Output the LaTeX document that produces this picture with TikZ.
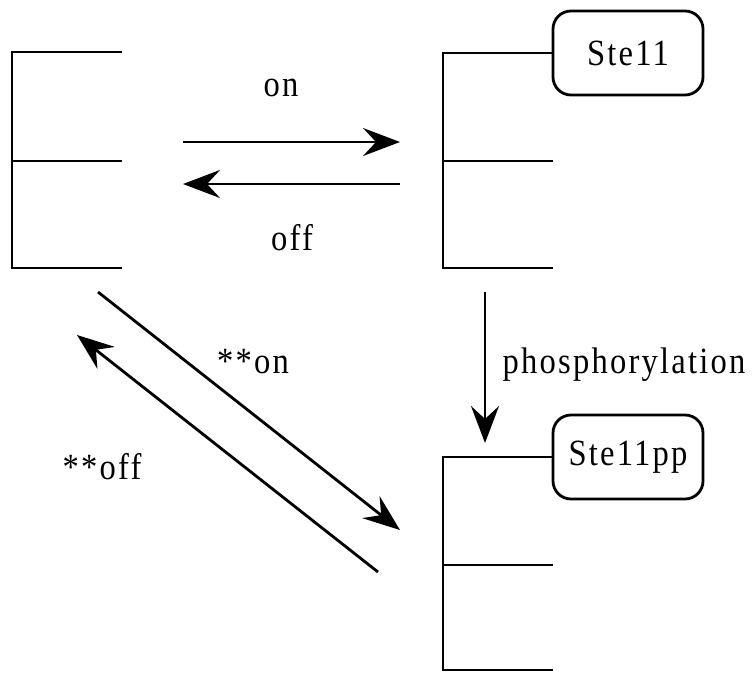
\documentclass[tikz,border=0pt]{standalone}
\usepackage{fontspec}
\setmainfont{Liberation Serif}[FakeStretch=0.88,LetterSpace=6]
\usetikzlibrary{arrows.meta}
\begin{document}
\begin{tikzpicture}[x=1pt,y=-1pt,
  ln/.style={line width=2.8pt,line cap=butt},
  arr/.style={ln,-{Stealth[length=37pt,width=28pt,inset=13pt]}},
  lbl/.style={font=\fontsize{37}{42}\selectfont,inner sep=0pt},
  tag/.style={draw,line width=2.8pt,rounded corners=18pt,minimum width=150pt,minimum height=84pt,font=\fontsize{37}{42}\selectfont,inner sep=0pt}]
\useasboundingbox (0,0) rectangle (754,672);
% left bracket
\coordinate (L1) at (12,52);
\coordinate (L3) at (12,268);
\draw[ln] (122,52) -- (L1) -- (L3) -- (122,268);
\draw[ln] (12,161) -- (122,161);
% top-right bracket with Ste11
\node[tag] (ste) at (628,53) {Ste11};
\coordinate (T1) at (443,53);
\coordinate (T3) at (443,268);
\draw[ln] (ste.west) -- (T1) -- (T3) -- (553,268);
\draw[ln] (443,161) -- (553,161);
% bottom-right bracket with Ste11pp
\node[tag] (stepp) at (628,457) {Ste11pp};
\coordinate (B1) at (443,457);
\coordinate (B3) at (443,670);
\draw[ln] (stepp.west) -- (B1) -- (B3) -- (553,670);
\draw[ln] (443,565) -- (553,565);
% horizontal arrows
\coordinate (h1s) at (183,142);
\coordinate (h1e) at (400,142);
\coordinate (h2s) at (400,184);
\coordinate (h2e) at (183,184);
\draw[arr] (h1s) -- (h1e);
\draw[arr] (h2s) -- (h2e);
\node[lbl] (on) at (281,88) {on};
\node[lbl] (off) at (292,238) {off};
% diagonal arrows
\coordinate (d1s) at (98,292);
\coordinate (d1e) at (400,530);
\coordinate (d2s) at (378,572);
\coordinate (d2e) at (77,335);
\draw[arr] (d1s) -- (d1e);
\draw[arr] (d2s) -- (d2e);
\node[lbl] (son) at (253,362) {**on};
\node[lbl] (soff) at (102,467) {**off};
% vertical arrow
\coordinate (vs) at (485,292);
\coordinate (ve) at (485,443);
\draw[arr] (vs) -- (ve);
\node[lbl,anchor=base] (phos) at (624,373) {phosphorylation};
\end{tikzpicture}
\end{document}
